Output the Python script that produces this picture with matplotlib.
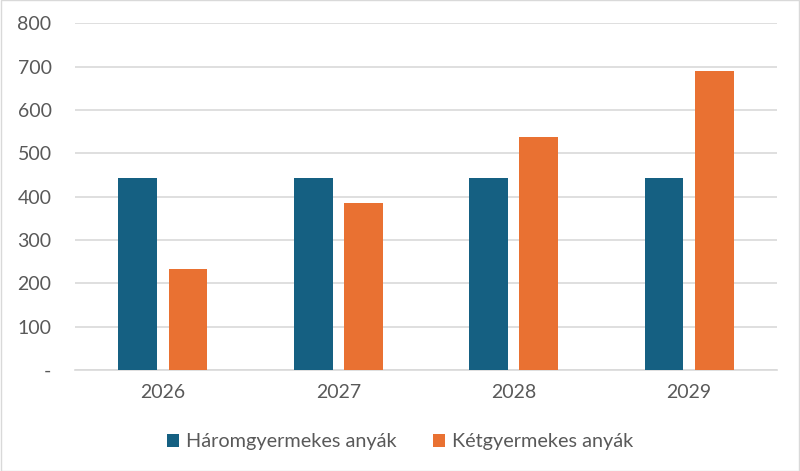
import numpy as np
import matplotlib
matplotlib.use('Agg')
import matplotlib.pyplot as plt
from matplotlib.patches import Rectangle

plt.rcParams['font.family'] = ['Lato', 'DejaVu Sans']

# data
years = ['2026', '2027', '2028', '2029']
harom = [442, 442, 442, 442]      # Háromgyermekes anyák
ket = [233, 385, 538, 690]        # Kétgyermekes anyák
series_names = ['Háromgyermekes anyák', 'Kétgyermekes anyák']
yticks = [0, 100, 200, 300, 400, 500, 600, 700, 800]
ytick_labels = ['-', '100', '200', '300', '400', '500', '600', '700', '800']

blue = '#156082'
orange = '#E97132'
txt = '#595959'

fig = plt.figure(figsize=(8, 4.71), dpi=100)
ax = fig.add_axes([0.094, 0.2144, 0.877, 0.7361])

x = np.arange(len(years))
w = 0.222
ax.bar(x - 0.143, harom, w, color=blue, label=series_names[0], zorder=3)
ax.bar(x + 0.143, ket, w, color=orange, label=series_names[1], zorder=3)

ax.set_xlim(-0.5, len(years) - 0.5)
ax.set_ylim(0, 800)
ax.set_yticks(yticks)
ax.set_yticklabels(ytick_labels)
ax.set_xticks(x)
ax.set_xticklabels(years)
ax.tick_params(axis='both', length=0, labelsize=14, colors=txt)
ax.tick_params(axis='y', pad=17)
ax.tick_params(axis='x', pad=10)
ax.grid(axis='y', color='#D9D9D9', linewidth=1.2, zorder=0)
for s in ['top', 'right', 'left']:
    ax.spines[s].set_visible(False)
ax.spines['bottom'].set_color('#D9D9D9')
ax.spines['bottom'].set_linewidth(1.2)

leg = fig.legend(loc='center', bbox_to_anchor=(0.5, 1 - 442 / 471), ncol=2,
                 frameon=False, fontsize=14.3, handlelength=0.62, handleheight=0.62,
                 handletextpad=0.35, columnspacing=1.8)
for t in leg.get_texts():
    t.set_color(txt)

# light chart border
fig.patches.append(Rectangle((0.001, 0.001), 0.998, 0.998, transform=fig.transFigure,
                             fill=False, edgecolor='#D9D9D9', linewidth=1))

fig.savefig('out.png', dpi=100)
